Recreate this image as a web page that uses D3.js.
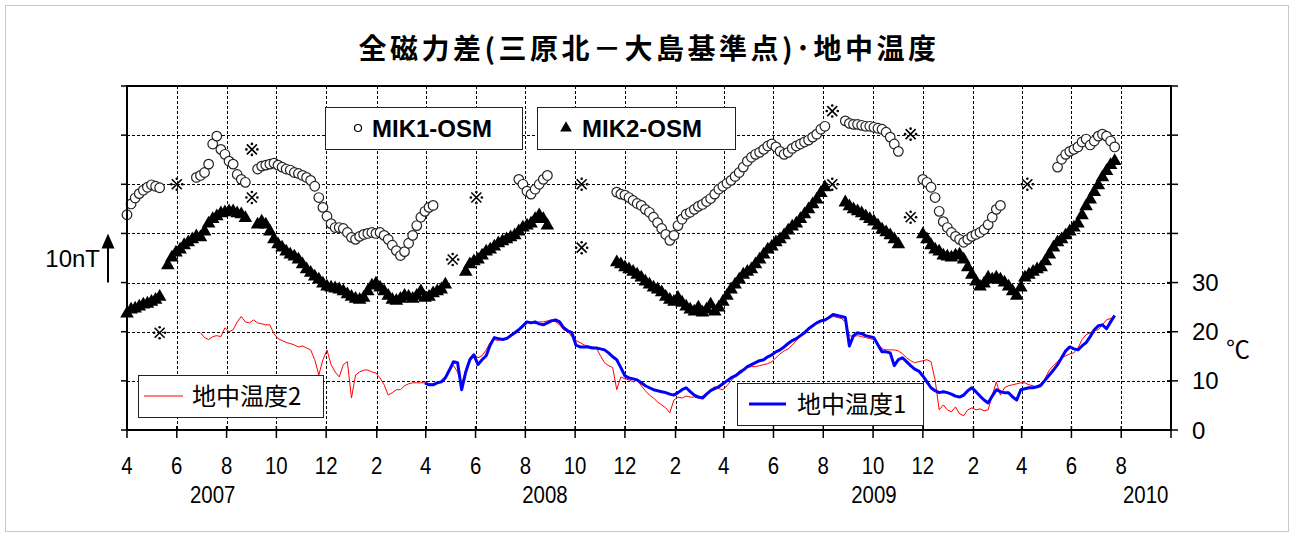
<!DOCTYPE html>
<html>
<head>
<meta charset="utf-8">
<script src="https://cdn.jsdelivr.net/npm/d3@7"></script>
<style>
  html, body { margin: 0; padding: 0; background: #fff; }
  svg { display: block; }
</style>
</head>
<body>
<svg id="chart" width="1298" height="537"></svg>
<script>
// ---- Data ---------------------------------------------------------------
// Sampling: every series is stored as runs of values, one value every
// STEP_DAYS days counted from ORIGIN. A run is [firstStepIndex, values].
const ORIGIN = "2007-04-01";
const STEP_DAYS = 5;
const AXIS_START = "2007-04-01";
const AXIS_END = "2010-10-01";

// Total-force difference MIK1 - OSM (nT, relative)
const mik1Runs = [
  [0, [13.8,16.0,17.2,18.1,18.8,19.4,19.9,19.6,19.3]],
  [17, [21.4,21.8,22.4,24.1,28.2,29.8,27.1,26.1,24.7,24.1,22.0,21.0,20.4]],
  [32, [23.1,23.7,23.9,24.1,24.3,23.9,23.5,23.1,22.9,22.4,22.2,21.8,21.4,20.8,19.6,17.3,15.3,13.5,12.0,11.2,
        11.2,11.0,10.2,9.2,8.8,9.4,9.8,10.0,10.2,10.0,10.2,9.6,8.8,7.6,6.5,5.5,6.3,8.0,9.6,11.6,
        13.3,14.5,15.3,15.7]],
  [96, [21.0,20.0,18.6,18.0,19.0,20.0,21.0,21.8]],
  [120, [18.4,18.0,17.8,17.3,16.7,16.1,15.7,14.9,14.3,13.3,12.2,11.0,9.8,8.6,9.6,11.6,12.9,13.9,14.3,14.9,
         15.5,15.9,16.5,17.1,18.0,19.0,19.6,20.2,20.8,21.6,22.4,23.5,24.7,25.5,26.1,26.5,27.1,27.8,28.2,27.6,
         26.7,26.1,26.5,27.3,27.8,28.2,28.6,29.0,29.6,30.2,31.2,31.8]],
  [176, [32.9,32.4,32.2,32.2,32.0,31.8,31.8,31.6,31.4,31.2,30.6,29.6,28.2,26.7]],
  [195, [21.0,20.4,19.4,17.3,14.5,12.4,11.2,10.2,9.4,8.8,8.2,8.8,9.4,9.8,10.2,10.8,11.8,13.3,14.9,15.7]],
  [228, [23.5,25.1,26.1,26.7,27.1,27.6,28.6,29.2,28.0,28.8,29.8,30.2,29.8,28.8,27.6]]
];

// Total-force difference MIK2 - OSM (nT, relative)
const mik2Runs = [
  [0, [-6.3,-5.5,-5.3,-4.9,-4.5,-4.3,-3.9,-3.5,-2.9]],
  [10, [3.5,5.1,6.1,6.7,7.6,8.2,8.8,9.4,9.2,10.4,12.0,12.9,13.5,14.1,14.3,14.5,14.5,14.1,13.9,13.1]],
  [32, [11.8,12.4,11.8,10.4,8.8,7.8,7.1,6.3,5.7,5.3,4.7,3.7,2.7,2.0,1.2,0.6,-0.2,-0.8,-1.0,-1.2,
        -1.4,-1.8,-2.4,-2.9,-3.3,-3.5,-3.1,-1.8,-0.6,-0.2,-1.0,-1.8,-2.7,-3.5,-3.7,-3.3,-2.7,-2.9,-3.3,-2.7,
        -1.8,-3.1,-2.9,-2.2,-1.8,-1.4,-0.4]],
  [83, [2.2,3.7,4.3,4.7,5.5,6.3,6.7,7.3,8.0,8.4,8.8,9.2,9.6,10.4,11.2,11.6,12.0,12.9,13.7,12.9,11.6]],
  [120, [4.1,3.7,3.1,2.7,2.2,1.6,1.0,0.2,-0.4,-1.0,-1.4,-2.0,-2.9,-3.5,-3.9,-3.1,-4.1,-4.9,-5.5,-5.9,
         -5.1,-6.1,-5.5,-4.5,-5.9,-5.1,-3.9,-2.7,-1.4,-0.4,0.6,1.6,2.2,2.7,3.7,4.7,5.7,6.7,7.3,8.2,
         8.8,9.6,10.6,11.4,12.0,12.9,13.9,14.9,15.9,16.9,18.2,19.4]],
  [176, [16.3,15.5,14.9,14.5,14.1,13.5,12.9,12.4,11.6,10.8,10.2,9.6,8.8,7.8]],
  [195, [9.8,8.8,7.6,6.7,6.3,5.5,5.3,5.1,5.5,5.7,4.7,3.1,1.6,0.2,-0.8,-0.2,1.0,0.6,1.0,0.6,
         0.0,-0.8,-1.8,-2.7,-1.0,1.0,1.6,2.2,2.7,3.1,4.3,5.7,7.1,8.2,8.8,9.6,10.4,11.2,12.0,13.7,
         15.5,16.9,18.4,19.8,21.4,22.7,23.9,24.7]]
];

// Repeat survey values (nT, relative), drawn with the ※ mark
const surveyDates = ["2007-05-11","2007-06-01","2007-09-01","2007-09-01","2008-05-04","2008-06-02",
                     "2008-10-09","2008-10-09","2009-08-12","2009-08-12","2009-11-16","2009-11-16","2010-04-08"];
const surveyValues = [-10.2, 20.0, 27.1, 17.3, 4.7, 17.3, 20.0, 7.1, 34.9, 20.0, 30.2, 13.3, 20.0];

// Ground temperature 2 (°C)
const temp2Runs = [
  [18, [19.8,18.8,18.4,19.0,19.2,19.0,20.8,20.0,20.4,22.0,
        23.1,22.0,21.8,22.4,21.8,21.6,21.4,21.4,19.6,18.6,
        18.2,17.8,17.6,17.3,16.9,17.1,16.7,16.3,14.3,11.2,
        14.3,16.3,13.3,11.8,10.8,13.3,13.9,6.5,11.2,11.8,
        12.2,12.2,11.8,11.6,10.6,9.2,7.1,7.6,8.2,8.2,
        9.0,9.4,9.6,9.6,9.6,9.6,9.4,9.4,9.6,9.8,
        10.6,12.2,13.1,11.8,9.2,12.2,14.7,15.5,14.7,15.1,
        16.3,17.8,18.4,18.2,18.6,18.8,19.0,19.6,20.4,21.2,
        21.8,22.0,21.6,22.0,22.0,22.2,22.4,22.0,21.4,20.4,
        20.0,19.0,18.2,17.8,17.3,17.1,16.9,16.7,15.1,13.7,
        13.1,12.7,8.2,10.8,10.4,10.2,9.8,10.2,9.0,8.0,
        7.1,6.5,5.7,5.1,4.5,3.5,6.1,6.7,6.5,6.9,
        6.7,6.7,6.5,6.9,7.3,8.2,8.8,8.4,8.2,9.0,
        10.0,11.0,12.0,12.4,12.7,12.9,12.9,13.1,13.3,13.5,
        13.9,14.7,15.5,16.1,16.5,17.3,18.2,19.0,19.6,20.4,
        21.2,21.8,22.0,22.4,22.9,23.1,22.9,22.7,22.0,19.2,
        19.0,19.2,19.0,18.8,18.6,18.4,17.6,16.5,16.3,16.3,
        16.3,16.1,15.5,14.7,14.1,13.7,13.9,14.1,14.3,13.9,
        10.2,4.1,5.1,4.1,3.7,4.7,3.3,2.9,4.1,4.5,
        4.1,4.3,3.9,4.1,7.1,9.8,7.1,8.6,9.0,9.2,
        9.4,9.6,9.6,9.2,9.0,8.6,8.8,10.6,12.2,13.1,
        13.9,14.7,15.1,15.5,15.7,16.7,18.4,19.4,19.8,20.2,
        20.4,21.4,22.4,22.7,22.9]]
];

// Ground temperature 1 (°C)
const temp1Runs = [
  [73, [9.6,9.2,9.2,9.6,9.8,10.6,12.2,13.9,13.7,8.2,
        11.8,14.3,15.3,13.3,14.3,15.1,17.3,18.8,18.6,18.4,
        18.6,19.2,19.8,20.4,21.2,22.0,21.8,22.0,21.6,21.4,
        21.8,22.2,22.4,22.0,20.8,20.2,19.8,17.3,16.9,16.9,
        16.9,16.7,16.7,16.5,16.3,15.7,14.9,14.3,12.7,11.0,
        10.6,10.4,10.2,9.6,9.0,8.6,8.2,8.0,7.8,7.6,
        7.3,7.1,7.6,8.2,8.6,7.8,7.1,6.7,6.5,7.3,
        8.0,8.4,8.8,9.4,10.0,10.6,11.0,11.6,12.2,12.9,
        13.3,13.7,14.1,14.3,14.9,15.3,15.9,16.3,16.9,17.6,
        18.2,18.6,19.2,19.8,20.6,21.2,21.8,22.2,22.4,22.9,
        23.5,23.3,23.1,22.9,17.1,19.2,19.8,19.6,19.2,19.0,
        18.8,17.3,15.9,15.9,15.7,13.1,14.3,14.7,13.9,13.1,
        12.4,12.0,11.0,9.8,8.6,8.0,7.6,7.8,7.6,7.3,
        6.9,6.7,7.1,8.0,8.6,7.8,6.9,6.1,5.5,6.9,
        8.2,7.8,7.6,7.6,6.7,6.1,8.2,8.4,8.6,8.6,
        8.8,9.2,10.2,11.2,12.2,13.3,14.7,16.1,16.9,16.5,
        16.3,17.1,17.8,19.0,20.4,21.2,21.4,20.6,22.0,23.3]]
];

// Axis text
const tempTicks = [0, 10, 20, 30];
const yearLabels = ["2007", "2008", "2009", "2010"];
const yearLabelDates = ["2007-07-15", "2008-08-25", "2009-10-02", "2010-08-31"];
const titleText = "全磁力差(三原北－大島基準点)･地中温度";

// ---- Setup ---------------------------------------------------------------
const parse = d3.utcParse("%Y-%m-%d");
const origin = parse(ORIGIN);
const plot = { left: 127, right: 1171, top: 86, bottom: 430 };

const x = d3.scaleUtc().domain([parse(AXIS_START), parse(AXIS_END)]).range([plot.left, plot.right]);
const yTemp = d3.scaleLinear().domain([0, 70]).range([plot.bottom, plot.top]);
const yMag = d3.scaleLinear().domain([-30, 40]).range([plot.bottom, plot.top]);

const expand = runs => runs.map(([start, vals]) =>
  vals.map((v, k) => ({ date: d3.utcDay.offset(origin, (start + k) * STEP_DAYS), value: v })));

const svg = d3.select("#chart");
const FONT = "'Liberation Sans', Arial, sans-serif";
const CJK = "'Noto Sans CJK JP', 'Noto Sans CJK SC', sans-serif";

svg.append("rect").attr("width", 1298).attr("height", 537).attr("fill", "#fff");
svg.append("rect").attr("x", 5.5).attr("y", 5.5).attr("width", 1283).attr("height", 526)
  .attr("fill", "none").attr("stroke", "#c8c8c8").attr("stroke-width", 1);

// Title
svg.append("text").attr("x", 649).attr("y", 59).attr("text-anchor", "middle")
  .attr("font-family", CJK).attr("font-weight", "bold").attr("font-size", 28)
  .attr("letter-spacing", 3.5).text(titleText);

// ---- Grid ----------------------------------------------------------------
const monthTicks = d3.utcMonth.range(parse(AXIS_START), d3.utcDay.offset(parse(AXIS_END), 1), 2);
const grid = svg.append("g").attr("stroke", "#000").attr("stroke-width", 1).attr("stroke-dasharray", "3,2");
grid.selectAll("line.h").data(d3.range(10, 70, 10)).join("line")
  .attr("x1", plot.left).attr("x2", plot.right)
  .attr("y1", d => Math.round(yTemp(d)) + 0.5).attr("y2", d => Math.round(yTemp(d)) + 0.5);
grid.selectAll("line.v").data(monthTicks.slice(1, -1)).join("line")
  .attr("x1", d => Math.round(x(d)) + 0.5).attr("x2", d => Math.round(x(d)) + 0.5)
  .attr("y1", plot.top).attr("y2", plot.bottom);

// ---- Series --------------------------------------------------------------
const line = d3.line().x(d => x(d.date)).y(d => yTemp(d.value));

svg.append("g").selectAll("path").data(expand(temp2Runs)).join("path")
  .attr("d", line).attr("fill", "none").attr("stroke", "#ff0000").attr("stroke-width", 1);
svg.append("g").selectAll("path").data(expand(temp1Runs)).join("path")
  .attr("d", line).attr("fill", "none").attr("stroke", "#0000ff").attr("stroke-width", 3)
  .attr("stroke-linejoin", "round");

svg.append("g").selectAll("circle").data(expand(mik1Runs).flat()).join("circle")
  .attr("cx", d => x(d.date)).attr("cy", d => yMag(d.value)).attr("r", 4.8)
  .attr("fill", "#fff").attr("stroke", "#222").attr("stroke-width", 1.2);

const tri = d3.symbol().type(d3.symbolTriangle).size(80);
svg.append("g").selectAll("path").data(expand(mik2Runs).flat()).join("path")
  .attr("transform", d => `translate(${x(d.date)},${yMag(d.value)})`)
  .attr("d", tri).attr("fill", "#000");

// ※ reference mark: a diagonal cross with a dot in each gap
const kome = "M-5,-5L5,5M5,-5L-5,5";
const surveyG = svg.append("g").selectAll("g")
  .data(surveyDates.map((d, i) => ({ date: parse(d), value: surveyValues[i] })))
  .join("g").attr("transform", d => `translate(${x(d.date)},${yMag(d.value)})`);
surveyG.append("path").attr("d", kome).attr("stroke", "#000").attr("stroke-width", 1.6).attr("fill", "none");
surveyG.selectAll("circle").data([[0, -5.5], [0, 5.5], [-5.5, 0], [5.5, 0]]).join("circle")
  .attr("cx", p => p[0]).attr("cy", p => p[1]).attr("r", 1.3).attr("fill", "#000");

// ---- Frame and axes -----------------------------------------------------
const frame = svg.append("g").attr("stroke", "#000").attr("fill", "none");
frame.append("rect").attr("x", plot.left).attr("y", plot.top)
  .attr("width", plot.right - plot.left).attr("height", plot.bottom - plot.top).attr("stroke-width", 2);

// left ticks
frame.selectAll("line.l").data(d3.range(0, 71, 10)).join("line")
  .attr("x1", plot.left - 6).attr("x2", plot.left)
  .attr("y1", d => yTemp(d)).attr("y2", d => yTemp(d)).attr("stroke-width", 1.5);
// right ticks
frame.selectAll("line.r").data(d3.range(0, 71, 10)).join("line")
  .attr("x1", plot.right - 4).attr("x2", plot.right + 7)
  .attr("y1", d => yTemp(d)).attr("y2", d => yTemp(d)).attr("stroke-width", 1.5);
// bottom ticks
frame.selectAll("line.b").data(monthTicks).join("line")
  .attr("x1", d => x(d)).attr("x2", d => x(d))
  .attr("y1", plot.bottom - 4).attr("y2", plot.bottom + 8).attr("stroke-width", 1.5);

// temperature axis labels
svg.append("g").selectAll("text").data(tempTicks).join("text")
  .attr("x", plot.right + 21).attr("y", d => yTemp(d)).attr("dy", "0.36em")
  .attr("font-family", FONT).attr("font-size", 24).text(d => d);
svg.append("text").attr("x", 1226).attr("y", 358)
  .attr("font-family", CJK).attr("font-size", 24).text("℃");

// month labels
svg.append("g").selectAll("text").data(monthTicks.filter(d => d < parse(AXIS_END))).join("text")
  .attr("transform", d => `translate(${x(d)},474) scale(0.85,1)`).attr("text-anchor", "middle")
  .attr("font-family", FONT).attr("font-size", 24).text(d => d.getUTCMonth() + 1);
svg.append("g").selectAll("text").data(yearLabels).join("text")
  .attr("transform", (d, i) => `translate(${x(parse(yearLabelDates[i]))},503) scale(0.85,1)`)
  .attr("text-anchor", "middle").attr("font-family", FONT).attr("font-size", 24).text(d => d);

// 10 nT scale arrow
const arrowX = 108;
svg.append("line").attr("x1", arrowX).attr("x2", arrowX)
  .attr("y1", yMag(0)).attr("y2", yMag(10) + 12).attr("stroke", "#000").attr("stroke-width", 2);
svg.append("path").attr("fill", "#000")
  .attr("d", `M${arrowX},${yMag(10)} L${arrowX - 6.5},${yMag(10) + 15} L${arrowX + 6.5},${yMag(10) + 15} Z`);
svg.append("text").attr("x", 100).attr("y", (yMag(0) + yMag(10)) / 2).attr("dy", "0.36em")
  .attr("text-anchor", "end").attr("font-family", FONT).attr("font-size", 24).text("10nT");

// ---- Legends -------------------------------------------------------------
function box(x0, y0, w, h) {
  svg.append("rect").attr("x", x0 + 0.5).attr("y", y0 + 0.5).attr("width", w).attr("height", h)
    .attr("fill", "#fff").attr("stroke", "#222").attr("stroke-width", 1);
}
box(325, 107, 197, 42);
svg.append("circle").attr("cx", 358).attr("cy", 128).attr("r", 3.5)
  .attr("fill", "#fff").attr("stroke", "#000").attr("stroke-width", 1.2);
svg.append("text").attr("x", 372).attr("y", 128).attr("dy", "0.36em")
  .attr("font-family", FONT).attr("font-weight", "bold").attr("font-size", 24).text("MIK1-OSM");

box(537, 107, 198, 42);
svg.append("path").attr("transform", "translate(566,128)")
  .attr("d", d3.symbol().type(d3.symbolTriangle).size(60)).attr("fill", "#000");
svg.append("text").attr("x", 582).attr("y", 128).attr("dy", "0.36em")
  .attr("font-family", FONT).attr("font-weight", "bold").attr("font-size", 24).text("MIK2-OSM");

box(138, 375, 185, 42);
svg.append("line").attr("x1", 144).attr("x2", 183).attr("y1", 396).attr("y2", 396)
  .attr("stroke", "#ff0000").attr("stroke-width", 1);
svg.append("text").attr("x", 192).attr("y", 396).attr("dy", "0.36em")
  .attr("font-family", CJK).attr("font-size", 24).text("地中温度2");

box(737, 383, 186, 42);
svg.append("line").attr("x1", 749).attr("x2", 786).attr("y1", 404).attr("y2", 404)
  .attr("stroke", "#0000ff").attr("stroke-width", 3);
svg.append("text").attr("x", 797).attr("y", 404).attr("dy", "0.36em")
  .attr("font-family", CJK).attr("font-size", 24).text("地中温度1");
</script>
</body>
</html>
